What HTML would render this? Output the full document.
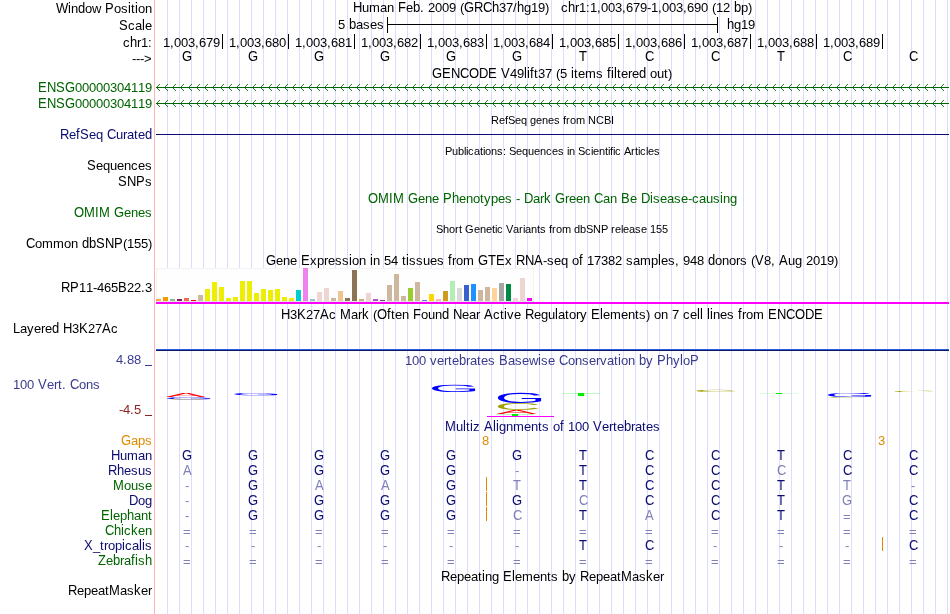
<!DOCTYPE html><html><head><meta charset="utf-8"><title>tracks</title><style>
html,body{margin:0;padding:0;background:#fff;}
body{width:950px;height:614px;position:relative;overflow:hidden;font-family:"Liberation Sans",sans-serif;font-size:13px;color:#000;}
.a{position:absolute;}
#tx{position:absolute;left:0;top:0;width:950px;height:614px;will-change:transform;}
.t{position:absolute;white-space:nowrap;line-height:16px;height:16px;}
.t i{display:inline-block;font-style:normal;}
.t i.u{transform:scaleY(1.077);transform-origin:0 12px;}
.s{font-size:11px;}
.g{color:#006400;}
.n{color:#0c0c72;}
.l{color:#8080b8;}
.o{color:#e08a00;}
.w2{width:2px}.w3{width:3px}.w4{width:4px}.w5{width:5px}.w6{width:6px}.w7{width:7px}.w8{width:8px}.w9{width:9px}.w10{width:10px}.w11{width:11px}.w12{width:12px}.w13{width:13px}.w14{width:14px}.w15{width:15px}.w16{width:16px}.w17{width:17px}.w18{width:18px}.w19{width:19px}</style></head><body>
<div class="a" style="left:156px;top:0;width:794px;height:614px;background:repeating-linear-gradient(to right,transparent 0,transparent 11px,#dcdcff 11px,#dcdcff 12px);"></div>
<div class="a" style="left:154px;top:0;width:1px;height:614px;background:#ffb4b4;"></div>
<div class="a" style="left:145px;top:365px;width:7px;height:1px;background:#3c3c96;"></div>
<div class="a" style="left:145px;top:415px;width:7px;height:1px;background:#8b2323;"></div>
<div class="a" style="left:387px;top:24px;width:331px;height:1px;background:#000;"></div>
<div class="a" style="left:387px;top:17px;width:1px;height:16px;background:#000;"></div>
<div class="a" style="left:717px;top:17px;width:1px;height:16px;background:#000;"></div>
<div class="a" style="left:222px;top:34px;width:1px;height:15px;background:#000;"></div>
<div class="a" style="left:288px;top:34px;width:1px;height:15px;background:#000;"></div>
<div class="a" style="left:354px;top:34px;width:1px;height:15px;background:#000;"></div>
<div class="a" style="left:420px;top:34px;width:1px;height:15px;background:#000;"></div>
<div class="a" style="left:486px;top:34px;width:1px;height:15px;background:#000;"></div>
<div class="a" style="left:552px;top:34px;width:1px;height:15px;background:#000;"></div>
<div class="a" style="left:618px;top:34px;width:1px;height:15px;background:#000;"></div>
<div class="a" style="left:684px;top:34px;width:1px;height:15px;background:#000;"></div>
<div class="a" style="left:750px;top:34px;width:1px;height:15px;background:#000;"></div>
<div class="a" style="left:816px;top:34px;width:1px;height:15px;background:#000;"></div>
<div class="a" style="left:882px;top:34px;width:1px;height:15px;background:#000;"></div>
<svg class="a" style="left:156px;top:83px;" width="793" height="9" viewBox="0 0 793 9"><path d="M0 4.5H793" stroke="#006400" stroke-width="1" fill="none"/><path d="M4 1L0.5 4.5L4 8M12 1L8.5 4.5L12 8M20 1L16.5 4.5L20 8M28 1L24.5 4.5L28 8M36 1L32.5 4.5L36 8M44 1L40.5 4.5L44 8M52 1L48.5 4.5L52 8M60 1L56.5 4.5L60 8M68 1L64.5 4.5L68 8M76 1L72.5 4.5L76 8M84 1L80.5 4.5L84 8M92 1L88.5 4.5L92 8M100 1L96.5 4.5L100 8M108 1L104.5 4.5L108 8M116 1L112.5 4.5L116 8M124 1L120.5 4.5L124 8M132 1L128.5 4.5L132 8M140 1L136.5 4.5L140 8M148 1L144.5 4.5L148 8M156 1L152.5 4.5L156 8M164 1L160.5 4.5L164 8M172 1L168.5 4.5L172 8M180 1L176.5 4.5L180 8M188 1L184.5 4.5L188 8M196 1L192.5 4.5L196 8M204 1L200.5 4.5L204 8M212 1L208.5 4.5L212 8M220 1L216.5 4.5L220 8M228 1L224.5 4.5L228 8M236 1L232.5 4.5L236 8M244 1L240.5 4.5L244 8M252 1L248.5 4.5L252 8M260 1L256.5 4.5L260 8M268 1L264.5 4.5L268 8M276 1L272.5 4.5L276 8M284 1L280.5 4.5L284 8M292 1L288.5 4.5L292 8M300 1L296.5 4.5L300 8M308 1L304.5 4.5L308 8M316 1L312.5 4.5L316 8M324 1L320.5 4.5L324 8M332 1L328.5 4.5L332 8M340 1L336.5 4.5L340 8M348 1L344.5 4.5L348 8M356 1L352.5 4.5L356 8M364 1L360.5 4.5L364 8M372 1L368.5 4.5L372 8M380 1L376.5 4.5L380 8M388 1L384.5 4.5L388 8M396 1L392.5 4.5L396 8M404 1L400.5 4.5L404 8M412 1L408.5 4.5L412 8M420 1L416.5 4.5L420 8M428 1L424.5 4.5L428 8M436 1L432.5 4.5L436 8M444 1L440.5 4.5L444 8M452 1L448.5 4.5L452 8M460 1L456.5 4.5L460 8M468 1L464.5 4.5L468 8M476 1L472.5 4.5L476 8M484 1L480.5 4.5L484 8M492 1L488.5 4.5L492 8M500 1L496.5 4.5L500 8M508 1L504.5 4.5L508 8M516 1L512.5 4.5L516 8M524 1L520.5 4.5L524 8M532 1L528.5 4.5L532 8M540 1L536.5 4.5L540 8M548 1L544.5 4.5L548 8M556 1L552.5 4.5L556 8M564 1L560.5 4.5L564 8M572 1L568.5 4.5L572 8M580 1L576.5 4.5L580 8M588 1L584.5 4.5L588 8M596 1L592.5 4.5L596 8M604 1L600.5 4.5L604 8M612 1L608.5 4.5L612 8M620 1L616.5 4.5L620 8M628 1L624.5 4.5L628 8M636 1L632.5 4.5L636 8M644 1L640.5 4.5L644 8M652 1L648.5 4.5L652 8M660 1L656.5 4.5L660 8M668 1L664.5 4.5L668 8M676 1L672.5 4.5L676 8M684 1L680.5 4.5L684 8M692 1L688.5 4.5L692 8M700 1L696.5 4.5L700 8M708 1L704.5 4.5L708 8M716 1L712.5 4.5L716 8M724 1L720.5 4.5L724 8M732 1L728.5 4.5L732 8M740 1L736.5 4.5L740 8M748 1L744.5 4.5L748 8M756 1L752.5 4.5L756 8M764 1L760.5 4.5L764 8M772 1L768.5 4.5L772 8M780 1L776.5 4.5L780 8M788 1L784.5 4.5L788 8" stroke="#006400" stroke-width="0.85" fill="none"/></svg>
<svg class="a" style="left:156px;top:99px;" width="793" height="9" viewBox="0 0 793 9"><path d="M0 4.5H793" stroke="#006400" stroke-width="1" fill="none"/><path d="M4 1L0.5 4.5L4 8M12 1L8.5 4.5L12 8M20 1L16.5 4.5L20 8M28 1L24.5 4.5L28 8M36 1L32.5 4.5L36 8M44 1L40.5 4.5L44 8M52 1L48.5 4.5L52 8M60 1L56.5 4.5L60 8M68 1L64.5 4.5L68 8M76 1L72.5 4.5L76 8M84 1L80.5 4.5L84 8M92 1L88.5 4.5L92 8M100 1L96.5 4.5L100 8M108 1L104.5 4.5L108 8M116 1L112.5 4.5L116 8M124 1L120.5 4.5L124 8M132 1L128.5 4.5L132 8M140 1L136.5 4.5L140 8M148 1L144.5 4.5L148 8M156 1L152.5 4.5L156 8M164 1L160.5 4.5L164 8M172 1L168.5 4.5L172 8M180 1L176.5 4.5L180 8M188 1L184.5 4.5L188 8M196 1L192.5 4.5L196 8M204 1L200.5 4.5L204 8M212 1L208.5 4.5L212 8M220 1L216.5 4.5L220 8M228 1L224.5 4.5L228 8M236 1L232.5 4.5L236 8M244 1L240.5 4.5L244 8M252 1L248.5 4.5L252 8M260 1L256.5 4.5L260 8M268 1L264.5 4.5L268 8M276 1L272.5 4.5L276 8M284 1L280.5 4.5L284 8M292 1L288.5 4.5L292 8M300 1L296.5 4.5L300 8M308 1L304.5 4.5L308 8M316 1L312.5 4.5L316 8M324 1L320.5 4.5L324 8M332 1L328.5 4.5L332 8M340 1L336.5 4.5L340 8M348 1L344.5 4.5L348 8M356 1L352.5 4.5L356 8M364 1L360.5 4.5L364 8M372 1L368.5 4.5L372 8M380 1L376.5 4.5L380 8M388 1L384.5 4.5L388 8M396 1L392.5 4.5L396 8M404 1L400.5 4.5L404 8M412 1L408.5 4.5L412 8M420 1L416.5 4.5L420 8M428 1L424.5 4.5L428 8M436 1L432.5 4.5L436 8M444 1L440.5 4.5L444 8M452 1L448.5 4.5L452 8M460 1L456.5 4.5L460 8M468 1L464.5 4.5L468 8M476 1L472.5 4.5L476 8M484 1L480.5 4.5L484 8M492 1L488.5 4.5L492 8M500 1L496.5 4.5L500 8M508 1L504.5 4.5L508 8M516 1L512.5 4.5L516 8M524 1L520.5 4.5L524 8M532 1L528.5 4.5L532 8M540 1L536.5 4.5L540 8M548 1L544.5 4.5L548 8M556 1L552.5 4.5L556 8M564 1L560.5 4.5L564 8M572 1L568.5 4.5L572 8M580 1L576.5 4.5L580 8M588 1L584.5 4.5L588 8M596 1L592.5 4.5L596 8M604 1L600.5 4.5L604 8M612 1L608.5 4.5L612 8M620 1L616.5 4.5L620 8M628 1L624.5 4.5L628 8M636 1L632.5 4.5L636 8M644 1L640.5 4.5L644 8M652 1L648.5 4.5L652 8M660 1L656.5 4.5L660 8M668 1L664.5 4.5L668 8M676 1L672.5 4.5L676 8M684 1L680.5 4.5L684 8M692 1L688.5 4.5L692 8M700 1L696.5 4.5L700 8M708 1L704.5 4.5L708 8M716 1L712.5 4.5L716 8M724 1L720.5 4.5L724 8M732 1L728.5 4.5L732 8M740 1L736.5 4.5L740 8M748 1L744.5 4.5L748 8M756 1L752.5 4.5L756 8M764 1L760.5 4.5L764 8M772 1L768.5 4.5L772 8M780 1L776.5 4.5L780 8M788 1L784.5 4.5L788 8" stroke="#006400" stroke-width="0.85" fill="none"/></svg>
<div class="a" style="left:156px;top:134px;width:793px;height:1px;background:#0c0c78;"></div>
<div class="a" style="left:156px;top:268px;width:378px;height:34px;background:#fefefe;box-shadow:inset 0 0 0 1px #f3f3f3;"></div>
<div class="a" style="left:156px;top:301px;width:378px;height:1px;background:#dfe8df;"></div>
<div class="a" style="left:156px;top:299px;width:5px;height:2px;background:#FFA54F;"></div>
<div class="a" style="left:163px;top:297px;width:5px;height:4px;background:#EE9A00;"></div>
<div class="a" style="left:170px;top:299px;width:5px;height:2px;background:#8FBC8F;"></div>
<div class="a" style="left:177px;top:299px;width:5px;height:2px;background:#8B1C62;"></div>
<div class="a" style="left:184px;top:298px;width:5px;height:3px;background:#EE6A50;"></div>
<div class="a" style="left:191px;top:300px;width:5px;height:1px;background:#FF0000;"></div>
<div class="a" style="left:198px;top:295px;width:5px;height:6px;background:#CDB79E;"></div>
<div class="a" style="left:205px;top:289px;width:5px;height:12px;background:#EEEE00;"></div>
<div class="a" style="left:212px;top:282px;width:5px;height:19px;background:#EEEE00;"></div>
<div class="a" style="left:219px;top:287px;width:5px;height:14px;background:#EEEE00;"></div>
<div class="a" style="left:226px;top:298px;width:5px;height:3px;background:#EEEE00;"></div>
<div class="a" style="left:233px;top:297px;width:5px;height:4px;background:#EEEE00;"></div>
<div class="a" style="left:240px;top:281px;width:5px;height:20px;background:#EEEE00;"></div>
<div class="a" style="left:247px;top:281px;width:5px;height:20px;background:#EEEE00;"></div>
<div class="a" style="left:254px;top:293px;width:5px;height:8px;background:#EEEE00;"></div>
<div class="a" style="left:261px;top:289px;width:5px;height:12px;background:#EEEE00;"></div>
<div class="a" style="left:268px;top:290px;width:5px;height:11px;background:#EEEE00;"></div>
<div class="a" style="left:275px;top:289px;width:5px;height:12px;background:#EEEE00;"></div>
<div class="a" style="left:282px;top:297px;width:5px;height:4px;background:#EEEE00;"></div>
<div class="a" style="left:289px;top:298px;width:5px;height:3px;background:#EEEE00;"></div>
<div class="a" style="left:296px;top:290px;width:5px;height:11px;background:#00CDCD;"></div>
<div class="a" style="left:303px;top:268px;width:5px;height:33px;background:#EE82EE;"></div>
<div class="a" style="left:310px;top:299px;width:5px;height:2px;background:#9AC0CD;"></div>
<div class="a" style="left:317px;top:292px;width:5px;height:9px;background:#EED5D2;"></div>
<div class="a" style="left:324px;top:288px;width:5px;height:13px;background:#EED5D2;"></div>
<div class="a" style="left:331px;top:298px;width:5px;height:3px;background:#CDB79E;"></div>
<div class="a" style="left:338px;top:291px;width:5px;height:10px;background:#EEC591;"></div>
<div class="a" style="left:345px;top:298px;width:5px;height:3px;background:#8B7355;"></div>
<div class="a" style="left:352px;top:270px;width:5px;height:31px;background:#8B7355;"></div>
<div class="a" style="left:359px;top:299px;width:5px;height:2px;background:#CDAA7D;"></div>
<div class="a" style="left:366px;top:293px;width:5px;height:8px;background:#EED5D2;"></div>
<div class="a" style="left:373px;top:299px;width:5px;height:2px;background:#B452CD;"></div>
<div class="a" style="left:380px;top:300px;width:5px;height:1px;background:#7A378B;"></div>
<div class="a" style="left:387px;top:285px;width:5px;height:16px;background:#CDB79E;"></div>
<div class="a" style="left:394px;top:274px;width:5px;height:27px;background:#CDB79E;"></div>
<div class="a" style="left:401px;top:296px;width:5px;height:5px;background:#CDB79E;"></div>
<div class="a" style="left:408px;top:288px;width:5px;height:13px;background:#9ACD32;"></div>
<div class="a" style="left:415px;top:282px;width:5px;height:19px;background:#CDB79E;"></div>
<div class="a" style="left:422px;top:300px;width:5px;height:1px;background:#7A67EE;"></div>
<div class="a" style="left:429px;top:294px;width:5px;height:7px;background:#FFD700;"></div>
<div class="a" style="left:436px;top:299px;width:5px;height:2px;background:#FFB6C1;"></div>
<div class="a" style="left:443px;top:291px;width:5px;height:10px;background:#CD9B1D;"></div>
<div class="a" style="left:450px;top:281px;width:5px;height:20px;background:#B4EEB4;"></div>
<div class="a" style="left:457px;top:288px;width:5px;height:13px;background:#D9D9D9;"></div>
<div class="a" style="left:464px;top:285px;width:5px;height:16px;background:#3A5FCD;"></div>
<div class="a" style="left:471px;top:284px;width:5px;height:17px;background:#1E90FF;"></div>
<div class="a" style="left:478px;top:290px;width:5px;height:11px;background:#CDB79E;"></div>
<div class="a" style="left:485px;top:287px;width:5px;height:14px;background:#CDB79E;"></div>
<div class="a" style="left:492px;top:288px;width:5px;height:13px;background:#FFD39B;"></div>
<div class="a" style="left:499px;top:283px;width:5px;height:18px;background:#A6A6A6;"></div>
<div class="a" style="left:506px;top:284px;width:5px;height:17px;background:#008B45;"></div>
<div class="a" style="left:513px;top:298px;width:5px;height:3px;background:#EED5D2;"></div>
<div class="a" style="left:520px;top:278px;width:5px;height:23px;background:#EED5D2;"></div>
<div class="a" style="left:527px;top:298px;width:5px;height:3px;background:#FF00FF;"></div>
<div class="a" style="left:156px;top:302px;width:793px;height:2px;background:#ff00ff;"></div>
<div class="a" style="left:156px;top:349px;width:793px;height:1px;background:#2c5ce0;"></div>
<div class="a" style="left:156px;top:350px;width:793px;height:1px;background:#0c1a60;"></div>
<svg class="a" style="left:0;top:0;" width="950" height="614" viewBox="0 0 950 614"><path d="M1167 0 1006 412H364L202 0H4L579 1409H796L1362 0ZM685 1265 676 1237Q651 1154 602 1024L422 561H949L768 1026Q740 1095 712 1182Z" fill="#ff0000" transform="matrix(0.02953 0 0 -0.00298 165.48 397.10)"/><path d="M103 711Q103 1054 287.0 1242.0Q471 1430 804 1430Q1038 1430 1184.0 1351.0Q1330 1272 1409 1098L1227 1044Q1167 1164 1061.5 1219.0Q956 1274 799 1274Q555 1274 426.0 1126.5Q297 979 297 711Q297 444 434.0 289.5Q571 135 813 135Q951 135 1070.5 177.0Q1190 219 1264 291V545H843V705H1440V219Q1328 105 1165.5 42.5Q1003 -20 813 -20Q592 -20 432.0 68.0Q272 156 187.5 321.5Q103 487 103 711Z" fill="#0000ff" transform="matrix(0.03231 0 0 -0.00152 163.67 399.27)"/><path d="M792 1274Q558 1274 428.0 1123.5Q298 973 298 711Q298 452 433.5 294.5Q569 137 800 137Q1096 137 1245 430L1401 352Q1314 170 1156.5 75.0Q999 -20 791 -20Q578 -20 422.5 68.5Q267 157 185.5 321.5Q104 486 104 711Q104 1048 286.0 1239.0Q468 1430 790 1430Q1015 1430 1166.0 1342.0Q1317 1254 1388 1081L1207 1021Q1158 1144 1049.5 1209.0Q941 1274 792 1274Z" fill="#a0a000" transform="matrix(0.02930 0 0 -0.00048 164.95 399.99)"/><path d="M103 711Q103 1054 287.0 1242.0Q471 1430 804 1430Q1038 1430 1184.0 1351.0Q1330 1272 1409 1098L1227 1044Q1167 1164 1061.5 1219.0Q956 1274 799 1274Q555 1274 426.0 1126.5Q297 979 297 711Q297 444 434.0 289.5Q571 135 813 135Q951 135 1070.5 177.0Q1190 219 1264 291V545H843V705H1440V219Q1328 105 1165.5 42.5Q1003 -20 813 -20Q592 -20 432.0 68.0Q272 156 187.5 321.5Q103 487 103 711Z" fill="#0000ff" transform="matrix(0.03224 0 0 -0.00166 230.68 395.27)"/><path d="M103 711Q103 1054 287.0 1242.0Q471 1430 804 1430Q1038 1430 1184.0 1351.0Q1330 1272 1409 1098L1227 1044Q1167 1164 1061.5 1219.0Q956 1274 799 1274Q555 1274 426.0 1126.5Q297 979 297 711Q297 444 434.0 289.5Q571 135 813 135Q951 135 1070.5 177.0Q1190 219 1264 291V545H843V705H1440V219Q1328 105 1165.5 42.5Q1003 -20 813 -20Q592 -20 432.0 68.0Q272 156 187.5 321.5Q103 487 103 711Z" fill="#0000ff" transform="matrix(0.03239 0 0 -0.00510 428.46 392.00)"/><path d="M103 711Q103 1054 287.0 1242.0Q471 1430 804 1430Q1038 1430 1184.0 1351.0Q1330 1272 1409 1098L1227 1044Q1167 1164 1061.5 1219.0Q956 1274 799 1274Q555 1274 426.0 1126.5Q297 979 297 711Q297 444 434.0 289.5Q571 135 813 135Q951 135 1070.5 177.0Q1190 219 1264 291V545H843V705H1440V219Q1328 105 1165.5 42.5Q1003 -20 813 -20Q592 -20 432.0 68.0Q272 156 187.5 321.5Q103 487 103 711Z" fill="#0000ff" transform="matrix(0.03239 0 0 -0.00703 494.46 402.86)"/><path d="M792 1274Q558 1274 428.0 1123.5Q298 973 298 711Q298 452 433.5 294.5Q569 137 800 137Q1096 137 1245 430L1401 352Q1314 170 1156.5 75.0Q999 -20 791 -20Q578 -20 422.5 68.5Q267 157 185.5 321.5Q104 486 104 711Q104 1048 286.0 1239.0Q468 1430 790 1430Q1015 1430 1166.0 1342.0Q1317 1254 1388 1081L1207 1021Q1158 1144 1049.5 1209.0Q941 1274 792 1274Z" fill="#a0a000" transform="matrix(0.03153 0 0 -0.00483 494.52 409.90)"/><path d="M1167 0 1006 412H364L202 0H4L579 1409H796L1362 0ZM685 1265 676 1237Q651 1154 602 1024L422 561H949L768 1026Q740 1095 712 1182Z" fill="#ff0000" transform="matrix(0.02982 0 0 -0.00277 496.18 413.90)"/><path d="M720 1253V0H530V1253H46V1409H1204V1253Z" fill="#00ee00" transform="matrix(0.03256 0 0 -0.00149 494.70 416.00)"/><path d="M720 1253V0H530V1253H46V1409H1204V1253Z" fill="#00ee00" transform="matrix(0.03256 0 0 -0.00220 560.70 396.00)"/><path d="M792 1274Q558 1274 428.0 1123.5Q298 973 298 711Q298 452 433.5 294.5Q569 137 800 137Q1096 137 1245 430L1401 352Q1314 170 1156.5 75.0Q999 -20 791 -20Q578 -20 422.5 68.5Q267 157 185.5 321.5Q104 486 104 711Q104 1048 286.0 1239.0Q468 1430 790 1430Q1015 1430 1166.0 1342.0Q1317 1254 1388 1081L1207 1021Q1158 1144 1049.5 1209.0Q941 1274 792 1274Z" fill="#a0a000" transform="matrix(0.03069 0 0 -0.00159 693.31 392.07)"/><path d="M720 1253V0H530V1253H46V1409H1204V1253Z" fill="#00ee00" transform="matrix(0.03273 0 0 -0.00078 758.49 394.00)"/><path d="M103 711Q103 1054 287.0 1242.0Q471 1430 804 1430Q1038 1430 1184.0 1351.0Q1330 1272 1409 1098L1227 1044Q1167 1164 1061.5 1219.0Q956 1274 799 1274Q555 1274 426.0 1126.5Q297 979 297 711Q297 444 434.0 289.5Q571 135 813 135Q951 135 1070.5 177.0Q1190 219 1264 291V545H843V705H1440V219Q1328 105 1165.5 42.5Q1003 -20 813 -20Q592 -20 432.0 68.0Q272 156 187.5 321.5Q103 487 103 711Z" fill="#0000ff" transform="matrix(0.03239 0 0 -0.00290 824.46 397.04)"/><path d="M792 1274Q558 1274 428.0 1123.5Q298 973 298 711Q298 452 433.5 294.5Q569 137 800 137Q1096 137 1245 430L1401 352Q1314 170 1156.5 75.0Q999 -20 791 -20Q578 -20 422.5 68.5Q267 157 185.5 321.5Q104 486 104 711Q104 1048 286.0 1239.0Q468 1430 790 1430Q1015 1430 1166.0 1342.0Q1317 1254 1388 1081L1207 1021Q1158 1144 1049.5 1209.0Q941 1274 792 1274Z" fill="#a0a000" transform="matrix(0.03007 0 0 -0.00062 825.87 397.99)"/><path d="M792 1274Q558 1274 428.0 1123.5Q298 973 298 711Q298 452 433.5 294.5Q569 137 800 137Q1096 137 1245 430L1401 352Q1314 170 1156.5 75.0Q999 -20 791 -20Q578 -20 422.5 68.5Q267 157 185.5 321.5Q104 486 104 711Q104 1048 286.0 1239.0Q468 1430 790 1430Q1015 1430 1166.0 1342.0Q1317 1254 1388 1081L1207 1021Q1158 1144 1049.5 1209.0Q941 1274 792 1274Z" fill="#a0a000" transform="matrix(0.03038 0 0 -0.00097 891.24 392.08)"/></svg>
<div class="a" style="left:760px;top:393px;width:38px;height:1px;background:rgba(0,238,0,0.13);"></div>
<div class="a" style="left:487px;top:416px;width:67px;height:1px;background:#ff00ff;"></div>
<div class="a" style="left:486px;top:477px;width:1px;height:14px;background:#e08a00;"></div>
<div class="a" style="left:486px;top:492px;width:1px;height:14px;background:#e08a00;"></div>
<div class="a" style="left:486px;top:507px;width:1px;height:14px;background:#e08a00;"></div>
<div class="a" style="left:882px;top:537px;width:1px;height:14px;background:#e08a00;"></div>
<div id="tx"><div class="t" style="left:56px;top:1px;"><i class="w12 u">W</i><i class="w3 u">i</i><i class=w7>n</i><i class="w7 u">d</i><i class=w7>o</i><i class=w13>w</i><i class="w9 u">P</i><i class=w7>o</i><i class=w7>s</i><i class="w3 u">i</i><i class=w4>t</i><i class="w3 u">i</i><i class=w7>o</i><i class=w7>n</i></div>
<div class="t" style="left:119px;top:18px;"><i class="w9 u">S</i><i class=w7>c</i><i class=w7>a</i><i class="w3 u">l</i><i class=w7>e</i></div>
<div class="t" style="left:123px;top:35px;"><i class=w7>c</i><i class="w7 u">h</i><i class=w4>r</i><i class=w7>1</i><i class=w4>:</i></div>
<div class="t" style="left:132px;top:51px;"><i class=w4>-</i><i class=w4>-</i><i class=w4>-</i><i class=w8>&gt;</i></div>
<div class="t g" style="left:38px;top:80px;"><i class="w9 u">E</i><i class="w9 u">N</i><i class="w9 u">S</i><i class="w10 u">G</i><i class=w7>0</i><i class=w7>0</i><i class=w7>0</i><i class=w7>0</i><i class=w7>0</i><i class=w7>3</i><i class=w7>0</i><i class=w7>4</i><i class=w7>1</i><i class=w7>1</i><i class=w7>9</i></div>
<div class="t g" style="left:38px;top:96px;"><i class="w9 u">E</i><i class="w9 u">N</i><i class="w9 u">S</i><i class="w10 u">G</i><i class=w7>0</i><i class=w7>0</i><i class=w7>0</i><i class=w7>0</i><i class=w7>0</i><i class=w7>3</i><i class=w7>0</i><i class=w7>4</i><i class=w7>1</i><i class=w7>1</i><i class=w7>9</i></div>
<div class="t n" style="left:60px;top:127px;"><i class="w9 u">R</i><i class=w7>e</i><i class="w4 u">f</i><i class="w9 u">S</i><i class=w7>e</i><i class=w11>q</i><i class="w9 u">C</i><i class=w7>u</i><i class=w4>r</i><i class=w7>a</i><i class=w4>t</i><i class=w7>e</i><i class="w7 u">d</i></div>
<div class="t" style="left:87px;top:158px;"><i class="w9 u">S</i><i class=w7>e</i><i class=w7>q</i><i class=w7>u</i><i class=w7>e</i><i class=w7>n</i><i class=w7>c</i><i class=w7>e</i><i class=w7>s</i></div>
<div class="t" style="left:118px;top:174px;"><i class="w9 u">S</i><i class="w9 u">N</i><i class="w9 u">P</i><i class=w7>s</i></div>
<div class="t g" style="left:74px;top:205px;"><i class="w10 u">O</i><i class="w11 u">M</i><i class="w4 u">I</i><i class="w15 u">M</i><i class="w10 u">G</i><i class=w7>e</i><i class=w7>n</i><i class=w7>e</i><i class=w7>s</i></div>
<div class="t" style="left:26px;top:236px;"><i class="w9 u">C</i><i class=w7>o</i><i class=w11>m</i><i class=w11>m</i><i class=w7>o</i><i class=w11>n</i><i class="w7 u">d</i><i class="w7 u">b</i><i class="w9 u">S</i><i class="w9 u">N</i><i class="w9 u">P</i><i class=w4>(</i><i class=w7>1</i><i class=w7>5</i><i class=w7>5</i><i class=w4>)</i></div>
<div class="t" style="left:61px;top:280px;"><i class="w9 u">R</i><i class="w9 u">P</i><i class=w7>1</i><i class=w7>1</i><i class=w4>-</i><i class=w7>4</i><i class=w7>6</i><i class=w7>5</i><i class="w9 u">B</i><i class=w7>2</i><i class=w7>2</i><i class=w4>.</i><i class=w7>3</i></div>
<div class="t" style="left:13px;top:321px;"><i class="w7 u">L</i><i class=w7>a</i><i class=w7>y</i><i class=w7>e</i><i class=w4>r</i><i class=w7>e</i><i class="w11 u">d</i><i class="w9 u">H</i><i class=w7>3</i><i class="w9 u">K</i><i class=w7>2</i><i class=w7>7</i><i class="w9 u">A</i><i class=w7>c</i></div>
<div class="t" style="left:116px;top:352px;color:#3c3c96;"><i class=w7>4</i><i class=w4>.</i><i class=w7>8</i><i class=w15>8</i></div>
<div class="t" style="left:13px;top:377px;color:#3a3a90;"><i class=w7>1</i><i class=w7>0</i><i class=w11>0</i><i class="w9 u">V</i><i class=w7>e</i><i class=w4>r</i><i class=w4>t</i><i class=w8>.</i><i class="w9 u">C</i><i class=w7>o</i><i class=w7>n</i><i class=w7>s</i></div>
<div class="t" style="left:119px;top:402px;color:#8b2323;"><i class=w4>-</i><i class=w7>4</i><i class=w4>.</i><i class=w15>5</i></div>
<div class="t o" style="left:121px;top:433px;"><i class="w10 u">G</i><i class=w7>a</i><i class=w7>p</i><i class=w7>s</i></div>
<div class="t n" style="left:111px;top:448px;"><i class="w9 u">H</i><i class=w7>u</i><i class=w11>m</i><i class=w7>a</i><i class=w7>n</i></div>
<div class="t n" style="left:108px;top:463px;"><i class="w9 u">R</i><i class="w7 u">h</i><i class=w7>e</i><i class=w7>s</i><i class=w7>u</i><i class=w7>s</i></div>
<div class="t g" style="left:113px;top:478px;"><i class="w11 u">M</i><i class=w7>o</i><i class=w7>u</i><i class=w7>s</i><i class=w7>e</i></div>
<div class="t n" style="left:129px;top:493px;"><i class="w9 u">D</i><i class=w7>o</i><i class=w7>g</i></div>
<div class="t g" style="left:101px;top:508px;"><i class="w9 u">E</i><i class="w3 u">l</i><i class=w7>e</i><i class=w7>p</i><i class="w7 u">h</i><i class=w7>a</i><i class=w7>n</i><i class=w4>t</i></div>
<div class="t g" style="left:105px;top:523px;"><i class="w9 u">C</i><i class="w7 u">h</i><i class="w3 u">i</i><i class=w7>c</i><i class="w7 u">k</i><i class=w7>e</i><i class=w7>n</i></div>
<div class="t n" style="left:84px;top:538px;"><i class="w9 u">X</i><i class=w7>_</i><i class=w4>t</i><i class=w4>r</i><i class=w7>o</i><i class=w7>p</i><i class="w3 u">i</i><i class=w7>c</i><i class=w7>a</i><i class="w3 u">l</i><i class="w3 u">i</i><i class=w7>s</i></div>
<div class="t g" style="left:98px;top:553px;"><i class="w8 u">Z</i><i class=w7>e</i><i class="w7 u">b</i><i class=w4>r</i><i class=w7>a</i><i class="w4 u">f</i><i class="w3 u">i</i><i class=w7>s</i><i class="w7 u">h</i></div>
<div class="t" style="left:68px;top:583px;"><i class="w9 u">R</i><i class=w7>e</i><i class=w7>p</i><i class=w7>e</i><i class=w7>a</i><i class=w4>t</i><i class="w11 u">M</i><i class=w7>a</i><i class=w7>s</i><i class="w7 u">k</i><i class=w7>e</i><i class=w4>r</i></div>
<div class="t" style="left:353px;top:0px;"><i class="w9 u">H</i><i class=w7>u</i><i class=w11>m</i><i class=w7>a</i><i class=w11>n</i><i class="w8 u">F</i><i class=w7>e</i><i class="w7 u">b</i><i class=w8>.</i><i class=w7>2</i><i class=w7>0</i><i class=w7>0</i><i class=w11>9</i><i class=w4>(</i><i class="w10 u">G</i><i class="w9 u">R</i><i class="w9 u">C</i><i class="w7 u">h</i><i class=w7>3</i><i class=w7>7</i><i class=w4>/</i><i class="w7 u">h</i><i class=w7>g</i><i class=w7>1</i><i class=w7>9</i><i class=w16>)</i><i class=w7>c</i><i class="w7 u">h</i><i class=w4>r</i><i class=w7>1</i><i class=w4>:</i><i class=w7>1</i><i class=w4>,</i><i class=w7>0</i><i class=w7>0</i><i class=w7>3</i><i class=w4>,</i><i class=w7>6</i><i class=w7>7</i><i class=w7>9</i><i class=w4>-</i><i class=w7>1</i><i class=w4>,</i><i class=w7>0</i><i class=w7>0</i><i class=w7>3</i><i class=w4>,</i><i class=w7>6</i><i class=w7>9</i><i class=w11>0</i><i class=w4>(</i><i class=w7>1</i><i class=w11>2</i><i class="w7 u">b</i><i class=w7>p</i><i class=w4>)</i></div>
<div class="t" style="left:338px;top:17px;"><i class=w11>5</i><i class="w7 u">b</i><i class=w7>a</i><i class=w7>s</i><i class=w7>e</i><i class=w7>s</i></div>
<div class="t" style="left:727px;top:17px;"><i class="w7 u">h</i><i class=w7>g</i><i class=w7>1</i><i class=w7>9</i></div>
<div class="t" style="left:432px;top:66px;"><i class="w10 u">G</i><i class="w9 u">E</i><i class="w9 u">N</i><i class="w9 u">C</i><i class="w10 u">O</i><i class="w9 u">D</i><i class="w13 u">E</i><i class="w9 u">V</i><i class=w7>4</i><i class=w7>9</i><i class="w3 u">l</i><i class="w3 u">i</i><i class="w4 u">f</i><i class=w4>t</i><i class=w7>3</i><i class=w11>7</i><i class=w4>(</i><i class=w11>5</i><i class="w3 u">i</i><i class=w4>t</i><i class=w7>e</i><i class=w11>m</i><i class=w11>s</i><i class="w4 u">f</i><i class="w3 u">i</i><i class="w3 u">l</i><i class=w4>t</i><i class=w7>e</i><i class=w4>r</i><i class=w7>e</i><i class="w11 u">d</i><i class=w7>o</i><i class=w7>u</i><i class=w4>t</i><i class=w4>)</i></div>
<div class="t  s" style="left:491px;top:112px;"><i class=w8>R</i><i class=w6>e</i><i class=w3>f</i><i class=w7>S</i><i class=w6>e</i><i class=w9>q</i><i class=w6>g</i><i class=w6>e</i><i class=w6>n</i><i class=w6>e</i><i class=w9>s</i><i class=w3>f</i><i class=w4>r</i><i class=w6>o</i><i class=w12>m</i><i class=w8>N</i><i class=w8>C</i><i class=w7>B</i><i class=w3>I</i></div>
<div class="t  s" style="left:445px;top:143px;"><i class=w7>P</i><i class=w6>u</i><i class=w6>b</i><i class=w2>l</i><i class=w2>i</i><i class=w6>c</i><i class=w6>a</i><i class=w3>t</i><i class=w2>i</i><i class=w6>o</i><i class=w6>n</i><i class=w6>s</i><i class=w6>:</i><i class=w7>S</i><i class=w6>e</i><i class=w6>q</i><i class=w6>u</i><i class=w6>e</i><i class=w6>n</i><i class=w6>c</i><i class=w6>e</i><i class=w9>s</i><i class=w2>i</i><i class=w9>n</i><i class=w7>S</i><i class=w6>c</i><i class=w2>i</i><i class=w6>e</i><i class=w6>n</i><i class=w3>t</i><i class=w2>i</i><i class=w3>f</i><i class=w2>i</i><i class=w9>c</i><i class=w7>A</i><i class=w4>r</i><i class=w3>t</i><i class=w2>i</i><i class=w6>c</i><i class=w2>l</i><i class=w6>e</i><i class=w6>s</i></div>
<div class="t g" style="left:368px;top:191px;"><i class="w10 u">O</i><i class="w11 u">M</i><i class="w4 u">I</i><i class="w15 u">M</i><i class="w10 u">G</i><i class=w7>e</i><i class=w7>n</i><i class=w11>e</i><i class="w9 u">P</i><i class="w7 u">h</i><i class=w7>e</i><i class=w7>n</i><i class=w7>o</i><i class=w4>t</i><i class=w7>y</i><i class=w7>p</i><i class=w7>e</i><i class=w11>s</i><i class=w8>-</i><i class="w9 u">D</i><i class=w7>a</i><i class=w4>r</i><i class="w11 u">k</i><i class="w10 u">G</i><i class=w4>r</i><i class=w7>e</i><i class=w7>e</i><i class=w11>n</i><i class="w9 u">C</i><i class=w7>a</i><i class=w11>n</i><i class="w9 u">B</i><i class=w11>e</i><i class="w9 u">D</i><i class="w3 u">i</i><i class=w7>s</i><i class=w7>e</i><i class=w7>a</i><i class=w7>s</i><i class=w7>e</i><i class=w4>-</i><i class=w7>c</i><i class=w7>a</i><i class=w7>u</i><i class=w7>s</i><i class="w3 u">i</i><i class=w7>n</i><i class=w7>g</i></div>
<div class="t  s" style="left:436px;top:221px;"><i class=w7>S</i><i class=w6>h</i><i class=w6>o</i><i class=w4>r</i><i class=w6>t</i><i class=w9>G</i><i class=w6>e</i><i class=w6>n</i><i class=w6>e</i><i class=w3>t</i><i class=w2>i</i><i class=w9>c</i><i class=w7>V</i><i class=w6>a</i><i class=w4>r</i><i class=w2>i</i><i class=w6>a</i><i class=w6>n</i><i class=w3>t</i><i class=w9>s</i><i class=w3>f</i><i class=w4>r</i><i class=w6>o</i><i class=w12>m</i><i class=w6>d</i><i class=w6>b</i><i class=w7>S</i><i class=w8>N</i><i class=w10>P</i><i class=w4>r</i><i class=w6>e</i><i class=w2>l</i><i class=w6>e</i><i class=w6>a</i><i class=w6>s</i><i class=w9>e</i><i class=w6>1</i><i class=w6>5</i><i class=w6>5</i></div>
<div class="t" style="left:266px;top:253px;"><i class="w10 u">G</i><i class=w7>e</i><i class=w7>n</i><i class=w11>e</i><i class="w9 u">E</i><i class=w7>x</i><i class=w7>p</i><i class=w4>r</i><i class=w7>e</i><i class=w7>s</i><i class=w7>s</i><i class="w3 u">i</i><i class=w7>o</i><i class=w11>n</i><i class="w3 u">i</i><i class=w11>n</i><i class=w7>5</i><i class=w11>4</i><i class=w4>t</i><i class="w3 u">i</i><i class=w7>s</i><i class=w7>s</i><i class=w7>u</i><i class=w7>e</i><i class=w11>s</i><i class="w4 u">f</i><i class=w4>r</i><i class=w7>o</i><i class=w15>m</i><i class="w10 u">G</i><i class="w8 u">T</i><i class="w9 u">E</i><i class=w11>x</i><i class="w9 u">R</i><i class="w9 u">N</i><i class="w9 u">A</i><i class=w4>-</i><i class=w7>s</i><i class=w7>e</i><i class=w11>q</i><i class=w7>o</i><i class="w8 u">f</i><i class=w7>1</i><i class=w7>7</i><i class=w7>3</i><i class=w7>8</i><i class=w11>2</i><i class=w7>s</i><i class=w7>a</i><i class=w11>m</i><i class=w7>p</i><i class="w3 u">l</i><i class=w7>e</i><i class=w7>s</i><i class=w8>,</i><i class=w7>9</i><i class=w7>4</i><i class=w11>8</i><i class="w7 u">d</i><i class=w7>o</i><i class=w7>n</i><i class=w7>o</i><i class=w4>r</i><i class=w11>s</i><i class=w4>(</i><i class="w9 u">V</i><i class=w7>8</i><i class=w8>,</i><i class="w9 u">A</i><i class=w7>u</i><i class=w11>g</i><i class=w7>2</i><i class=w7>0</i><i class=w7>1</i><i class=w7>9</i><i class=w4>)</i></div>
<div class="t" style="left:281px;top:307px;"><i class="w9 u">H</i><i class=w7>3</i><i class="w9 u">K</i><i class=w7>2</i><i class=w7>7</i><i class="w9 u">A</i><i class=w11>c</i><i class="w11 u">M</i><i class=w7>a</i><i class=w4>r</i><i class="w11 u">k</i><i class=w4>(</i><i class="w10 u">O</i><i class="w4 u">f</i><i class=w4>t</i><i class=w7>e</i><i class=w11>n</i><i class="w8 u">F</i><i class=w7>o</i><i class=w7>u</i><i class=w7>n</i><i class="w11 u">d</i><i class="w9 u">N</i><i class=w7>e</i><i class=w7>a</i><i class=w8>r</i><i class="w9 u">A</i><i class=w7>c</i><i class=w4>t</i><i class="w3 u">i</i><i class=w7>v</i><i class=w11>e</i><i class="w9 u">R</i><i class=w7>e</i><i class=w7>g</i><i class=w7>u</i><i class="w3 u">l</i><i class=w7>a</i><i class=w4>t</i><i class=w7>o</i><i class=w4>r</i><i class=w11>y</i><i class="w9 u">E</i><i class="w3 u">l</i><i class=w7>e</i><i class=w11>m</i><i class=w7>e</i><i class=w7>n</i><i class=w4>t</i><i class=w7>s</i><i class=w8>)</i><i class=w7>o</i><i class=w11>n</i><i class=w11>7</i><i class=w7>c</i><i class=w7>e</i><i class="w3 u">l</i><i class="w7 u">l</i><i class="w3 u">l</i><i class="w3 u">i</i><i class=w7>n</i><i class=w7>e</i><i class=w11>s</i><i class="w4 u">f</i><i class=w4>r</i><i class=w7>o</i><i class=w15>m</i><i class="w9 u">E</i><i class="w9 u">N</i><i class="w9 u">C</i><i class="w10 u">O</i><i class="w9 u">D</i><i class="w9 u">E</i></div>
<div class="t" style="left:405px;top:353px;color:#3a3a8c;"><i class=w7>1</i><i class=w7>0</i><i class=w11>0</i><i class=w7>v</i><i class=w7>e</i><i class=w4>r</i><i class=w4>t</i><i class=w7>e</i><i class="w7 u">b</i><i class=w4>r</i><i class=w7>a</i><i class=w4>t</i><i class=w7>e</i><i class=w11>s</i><i class="w9 u">B</i><i class=w7>a</i><i class=w7>s</i><i class=w7>e</i><i class=w9>w</i><i class="w3 u">i</i><i class=w7>s</i><i class=w11>e</i><i class="w9 u">C</i><i class=w7>o</i><i class=w7>n</i><i class=w7>s</i><i class=w7>e</i><i class=w4>r</i><i class=w7>v</i><i class=w7>a</i><i class=w4>t</i><i class="w3 u">i</i><i class=w7>o</i><i class=w11>n</i><i class="w7 u">b</i><i class=w11>y</i><i class="w9 u">P</i><i class="w7 u">h</i><i class=w7>y</i><i class="w3 u">l</i><i class=w7>o</i><i class="w9 u">P</i></div>
<div class="t n" style="left:445px;top:419px;"><i class="w11 u">M</i><i class=w7>u</i><i class="w3 u">l</i><i class=w4>t</i><i class="w3 u">i</i><i class=w11>z</i><i class="w9 u">A</i><i class="w3 u">l</i><i class="w3 u">i</i><i class=w7>g</i><i class=w7>n</i><i class=w11>m</i><i class=w7>e</i><i class=w7>n</i><i class=w4>t</i><i class=w11>s</i><i class=w7>o</i><i class="w8 u">f</i><i class=w7>1</i><i class=w7>0</i><i class=w11>0</i><i class="w9 u">V</i><i class=w7>e</i><i class=w4>r</i><i class=w4>t</i><i class=w7>e</i><i class="w7 u">b</i><i class=w4>r</i><i class=w7>a</i><i class=w4>t</i><i class=w7>e</i><i class=w7>s</i></div>
<div class="t" style="left:441px;top:569px;"><i class="w9 u">R</i><i class=w7>e</i><i class=w7>p</i><i class=w7>e</i><i class=w7>a</i><i class=w4>t</i><i class="w3 u">i</i><i class=w7>n</i><i class=w11>g</i><i class="w9 u">E</i><i class="w3 u">l</i><i class=w7>e</i><i class=w11>m</i><i class=w7>e</i><i class=w7>n</i><i class=w4>t</i><i class=w11>s</i><i class="w7 u">b</i><i class=w11>y</i><i class="w9 u">R</i><i class=w7>e</i><i class=w7>p</i><i class=w7>e</i><i class=w7>a</i><i class=w4>t</i><i class="w11 u">M</i><i class=w7>a</i><i class=w7>s</i><i class="w7 u">k</i><i class=w7>e</i><i class=w4>r</i></div>
<div class="t" style="left:163px;top:35px;"><i class=w7>1</i><i class=w4>,</i><i class=w7>0</i><i class=w7>0</i><i class=w7>3</i><i class=w4>,</i><i class=w7>6</i><i class=w7>7</i><i class=w7>9</i></div>
<div class="t" style="left:182px;top:49px;"><i class="w10 u">G</i></div>
<div class="t" style="left:229px;top:35px;"><i class=w7>1</i><i class=w4>,</i><i class=w7>0</i><i class=w7>0</i><i class=w7>3</i><i class=w4>,</i><i class=w7>6</i><i class=w7>8</i><i class=w7>0</i></div>
<div class="t" style="left:248px;top:49px;"><i class="w10 u">G</i></div>
<div class="t" style="left:295px;top:35px;"><i class=w7>1</i><i class=w4>,</i><i class=w7>0</i><i class=w7>0</i><i class=w7>3</i><i class=w4>,</i><i class=w7>6</i><i class=w7>8</i><i class=w7>1</i></div>
<div class="t" style="left:314px;top:49px;"><i class="w10 u">G</i></div>
<div class="t" style="left:361px;top:35px;"><i class=w7>1</i><i class=w4>,</i><i class=w7>0</i><i class=w7>0</i><i class=w7>3</i><i class=w4>,</i><i class=w7>6</i><i class=w7>8</i><i class=w7>2</i></div>
<div class="t" style="left:380px;top:49px;"><i class="w10 u">G</i></div>
<div class="t" style="left:427px;top:35px;"><i class=w7>1</i><i class=w4>,</i><i class=w7>0</i><i class=w7>0</i><i class=w7>3</i><i class=w4>,</i><i class=w7>6</i><i class=w7>8</i><i class=w7>3</i></div>
<div class="t" style="left:446px;top:49px;"><i class="w10 u">G</i></div>
<div class="t" style="left:493px;top:35px;"><i class=w7>1</i><i class=w4>,</i><i class=w7>0</i><i class=w7>0</i><i class=w7>3</i><i class=w4>,</i><i class=w7>6</i><i class=w7>8</i><i class=w7>4</i></div>
<div class="t" style="left:512px;top:49px;"><i class="w10 u">G</i></div>
<div class="t" style="left:559px;top:35px;"><i class=w7>1</i><i class=w4>,</i><i class=w7>0</i><i class=w7>0</i><i class=w7>3</i><i class=w4>,</i><i class=w7>6</i><i class=w7>8</i><i class=w7>5</i></div>
<div class="t" style="left:579px;top:49px;"><i class="w8 u">T</i></div>
<div class="t" style="left:625px;top:35px;"><i class=w7>1</i><i class=w4>,</i><i class=w7>0</i><i class=w7>0</i><i class=w7>3</i><i class=w4>,</i><i class=w7>6</i><i class=w7>8</i><i class=w7>6</i></div>
<div class="t" style="left:645px;top:49px;"><i class="w9 u">C</i></div>
<div class="t" style="left:691px;top:35px;"><i class=w7>1</i><i class=w4>,</i><i class=w7>0</i><i class=w7>0</i><i class=w7>3</i><i class=w4>,</i><i class=w7>6</i><i class=w7>8</i><i class=w7>7</i></div>
<div class="t" style="left:711px;top:49px;"><i class="w9 u">C</i></div>
<div class="t" style="left:757px;top:35px;"><i class=w7>1</i><i class=w4>,</i><i class=w7>0</i><i class=w7>0</i><i class=w7>3</i><i class=w4>,</i><i class=w7>6</i><i class=w7>8</i><i class=w7>8</i></div>
<div class="t" style="left:777px;top:49px;"><i class="w8 u">T</i></div>
<div class="t" style="left:823px;top:35px;"><i class=w7>1</i><i class=w4>,</i><i class=w7>0</i><i class=w7>0</i><i class=w7>3</i><i class=w4>,</i><i class=w7>6</i><i class=w7>8</i><i class=w7>9</i></div>
<div class="t" style="left:843px;top:49px;"><i class="w9 u">C</i></div>
<div class="t" style="left:909px;top:49px;"><i class="w9 u">C</i></div>
<div class="t n" style="left:182px;top:448px;"><i class="w10 u">G</i></div>
<div class="t n" style="left:248px;top:448px;"><i class="w10 u">G</i></div>
<div class="t n" style="left:314px;top:448px;"><i class="w10 u">G</i></div>
<div class="t n" style="left:380px;top:448px;"><i class="w10 u">G</i></div>
<div class="t n" style="left:446px;top:448px;"><i class="w10 u">G</i></div>
<div class="t n" style="left:512px;top:448px;"><i class="w10 u">G</i></div>
<div class="t n" style="left:579px;top:448px;"><i class="w8 u">T</i></div>
<div class="t n" style="left:645px;top:448px;"><i class="w9 u">C</i></div>
<div class="t n" style="left:711px;top:448px;"><i class="w9 u">C</i></div>
<div class="t n" style="left:777px;top:448px;"><i class="w8 u">T</i></div>
<div class="t n" style="left:843px;top:448px;"><i class="w9 u">C</i></div>
<div class="t n" style="left:909px;top:448px;"><i class="w9 u">C</i></div>
<div class="t l" style="left:183px;top:463px;"><i class="w9 u">A</i></div>
<div class="t n" style="left:248px;top:463px;"><i class="w10 u">G</i></div>
<div class="t n" style="left:314px;top:463px;"><i class="w10 u">G</i></div>
<div class="t n" style="left:380px;top:463px;"><i class="w10 u">G</i></div>
<div class="t n" style="left:446px;top:463px;"><i class="w10 u">G</i></div>
<div class="t l" style="left:515px;top:463px;"><i class=w4>-</i></div>
<div class="t n" style="left:579px;top:463px;"><i class="w8 u">T</i></div>
<div class="t n" style="left:645px;top:463px;"><i class="w9 u">C</i></div>
<div class="t n" style="left:711px;top:463px;"><i class="w9 u">C</i></div>
<div class="t l" style="left:777px;top:463px;"><i class="w9 u">C</i></div>
<div class="t n" style="left:843px;top:463px;"><i class="w9 u">C</i></div>
<div class="t n" style="left:909px;top:463px;"><i class="w9 u">C</i></div>
<div class="t l" style="left:185px;top:478px;"><i class=w4>-</i></div>
<div class="t n" style="left:248px;top:478px;"><i class="w10 u">G</i></div>
<div class="t l" style="left:315px;top:478px;"><i class="w9 u">A</i></div>
<div class="t l" style="left:381px;top:478px;"><i class="w9 u">A</i></div>
<div class="t n" style="left:446px;top:478px;"><i class="w10 u">G</i></div>
<div class="t l" style="left:513px;top:478px;"><i class="w8 u">T</i></div>
<div class="t n" style="left:579px;top:478px;"><i class="w8 u">T</i></div>
<div class="t n" style="left:645px;top:478px;"><i class="w9 u">C</i></div>
<div class="t n" style="left:711px;top:478px;"><i class="w9 u">C</i></div>
<div class="t n" style="left:777px;top:478px;"><i class="w8 u">T</i></div>
<div class="t l" style="left:843px;top:478px;"><i class="w8 u">T</i></div>
<div class="t l" style="left:911px;top:478px;"><i class=w4>-</i></div>
<div class="t l" style="left:185px;top:493px;"><i class=w4>-</i></div>
<div class="t n" style="left:248px;top:493px;"><i class="w10 u">G</i></div>
<div class="t n" style="left:314px;top:493px;"><i class="w10 u">G</i></div>
<div class="t n" style="left:380px;top:493px;"><i class="w10 u">G</i></div>
<div class="t n" style="left:446px;top:493px;"><i class="w10 u">G</i></div>
<div class="t n" style="left:512px;top:493px;"><i class="w10 u">G</i></div>
<div class="t l" style="left:579px;top:493px;"><i class="w9 u">C</i></div>
<div class="t n" style="left:645px;top:493px;"><i class="w9 u">C</i></div>
<div class="t n" style="left:711px;top:493px;"><i class="w9 u">C</i></div>
<div class="t n" style="left:777px;top:493px;"><i class="w8 u">T</i></div>
<div class="t l" style="left:842px;top:493px;"><i class="w10 u">G</i></div>
<div class="t n" style="left:909px;top:493px;"><i class="w9 u">C</i></div>
<div class="t l" style="left:185px;top:508px;"><i class=w4>-</i></div>
<div class="t n" style="left:248px;top:508px;"><i class="w10 u">G</i></div>
<div class="t n" style="left:314px;top:508px;"><i class="w10 u">G</i></div>
<div class="t n" style="left:380px;top:508px;"><i class="w10 u">G</i></div>
<div class="t n" style="left:446px;top:508px;"><i class="w10 u">G</i></div>
<div class="t l" style="left:513px;top:508px;"><i class="w9 u">C</i></div>
<div class="t n" style="left:579px;top:508px;"><i class="w8 u">T</i></div>
<div class="t l" style="left:645px;top:508px;"><i class="w9 u">A</i></div>
<div class="t n" style="left:711px;top:508px;"><i class="w9 u">C</i></div>
<div class="t n" style="left:777px;top:508px;"><i class="w8 u">T</i></div>
<div class="t l" style="left:843px;top:509px;"><i class=w8>=</i></div>
<div class="t n" style="left:909px;top:508px;"><i class="w9 u">C</i></div>
<div class="t l" style="left:183px;top:524px;"><i class=w8>=</i></div>
<div class="t l" style="left:249px;top:524px;"><i class=w8>=</i></div>
<div class="t l" style="left:315px;top:524px;"><i class=w8>=</i></div>
<div class="t l" style="left:381px;top:524px;"><i class=w8>=</i></div>
<div class="t l" style="left:447px;top:524px;"><i class=w8>=</i></div>
<div class="t l" style="left:513px;top:524px;"><i class=w8>=</i></div>
<div class="t l" style="left:579px;top:524px;"><i class=w8>=</i></div>
<div class="t l" style="left:645px;top:524px;"><i class=w8>=</i></div>
<div class="t l" style="left:711px;top:524px;"><i class=w8>=</i></div>
<div class="t l" style="left:777px;top:524px;"><i class=w8>=</i></div>
<div class="t l" style="left:843px;top:524px;"><i class=w8>=</i></div>
<div class="t l" style="left:909px;top:524px;"><i class=w8>=</i></div>
<div class="t l" style="left:185px;top:538px;"><i class=w4>-</i></div>
<div class="t l" style="left:251px;top:538px;"><i class=w4>-</i></div>
<div class="t l" style="left:317px;top:538px;"><i class=w4>-</i></div>
<div class="t l" style="left:383px;top:538px;"><i class=w4>-</i></div>
<div class="t l" style="left:449px;top:538px;"><i class=w4>-</i></div>
<div class="t l" style="left:515px;top:538px;"><i class=w4>-</i></div>
<div class="t n" style="left:579px;top:538px;"><i class="w8 u">T</i></div>
<div class="t n" style="left:645px;top:538px;"><i class="w9 u">C</i></div>
<div class="t l" style="left:713px;top:538px;"><i class=w4>-</i></div>
<div class="t l" style="left:779px;top:538px;"><i class=w4>-</i></div>
<div class="t l" style="left:845px;top:538px;"><i class=w4>-</i></div>
<div class="t n" style="left:909px;top:538px;"><i class="w9 u">C</i></div>
<div class="t l" style="left:183px;top:554px;"><i class=w8>=</i></div>
<div class="t l" style="left:249px;top:554px;"><i class=w8>=</i></div>
<div class="t l" style="left:315px;top:554px;"><i class=w8>=</i></div>
<div class="t l" style="left:381px;top:554px;"><i class=w8>=</i></div>
<div class="t l" style="left:447px;top:554px;"><i class=w8>=</i></div>
<div class="t l" style="left:513px;top:554px;"><i class=w8>=</i></div>
<div class="t l" style="left:579px;top:554px;"><i class=w8>=</i></div>
<div class="t l" style="left:645px;top:554px;"><i class=w8>=</i></div>
<div class="t l" style="left:711px;top:554px;"><i class=w8>=</i></div>
<div class="t l" style="left:777px;top:554px;"><i class=w8>=</i></div>
<div class="t l" style="left:843px;top:554px;"><i class=w8>=</i></div>
<div class="t l" style="left:909px;top:554px;"><i class=w8>=</i></div>
<div class="t o" style="left:482px;top:433px;"><i class=w7>8</i></div>
<div class="t o" style="left:878px;top:433px;"><i class=w7>3</i></div></div>
</body></html>
